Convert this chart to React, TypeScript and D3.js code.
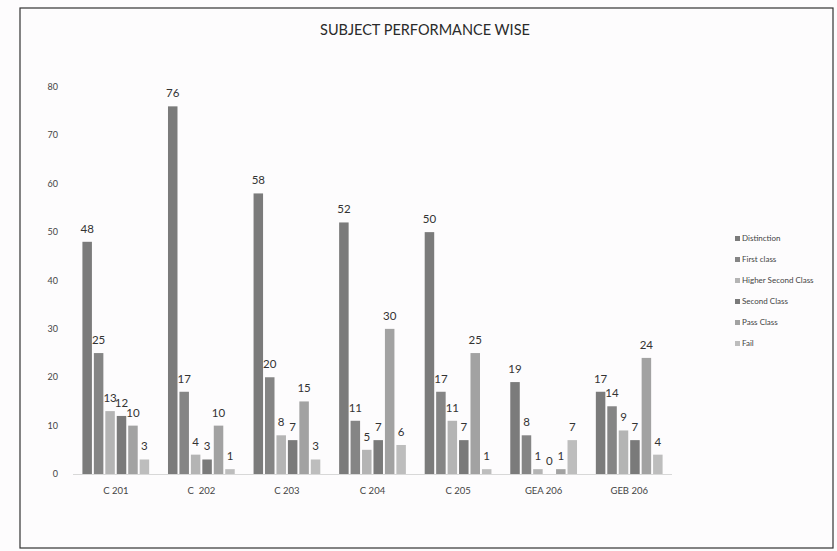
import { useRef, useEffect } from 'react';
import * as d3 from 'd3';

const SUBJECTS = ['C 201', 'C  202', 'C 203', 'C 204', 'C 205', 'GEA 206', 'GEB 206'];
const SERIES = ['Distinction', 'First class', 'Higher Second Class', 'Second Class', 'Pass Class', 'Fail'];
const DISTINCTION = [48, 76, 58, 52, 50, 19, 17];
const FIRST_CLASS = [25, 17, 20, 11, 17, 8, 14];
const HIGHER_SECOND = [13, 4, 8, 5, 11, 1, 9];
const SECOND_CLASS = [12, 3, 7, 7, 7, 0, 7];
const PASS_CLASS = [10, 10, 15, 30, 25, 1, 24];
const FAIL = [3, 1, 3, 6, 1, 7, 4];
const Y_TICKS = [0, 10, 20, 30, 40, 50, 60, 70, 80];

const COLORS = ['#7b7b7b', '#858585', '#b4b4b4', '#7a7a7a', '#a2a2a2', '#bdbdbd'];

export default function App() {
  const svgRef = useRef<SVGSVGElement>(null);

  useEffect(() => {
    if (!svgRef.current) return;
    const width = 837;
    const height = 551;
    const svg = d3.select(svgRef.current);
    svg.selectAll('*').remove();

    const font = 'Lato, "Open Sans", sans-serif';
    const values = [DISTINCTION, FIRST_CLASS, HIGHER_SECOND, SECOND_CLASS, PASS_CLASS, FAIL];

    svg.append('rect').attr('width', width).attr('height', height).attr('fill', '#fdfcfd');

    // chart border
    svg.append('rect')
      .attr('x', 20).attr('y', 8).attr('width', 813).attr('height', 540)
      .attr('fill', 'none').attr('stroke', '#333').attr('stroke-width', 1.2);

    // title
    svg.append('text')
      .attr('x', 425).attr('y', 35)
      .attr('text-anchor', 'middle')
      .attr('font-family', font).attr('font-size', '14.5px').attr('fill', '#2a2a2a')
      .text('SUBJECT PERFORMANCE WISE');

    const x0 = d3.scaleBand().domain(SUBJECTS).range([73, 672]).paddingInner(0.22).paddingOuter(0.11);
    const x1 = d3.scaleBand().domain(SERIES).range([0, x0.bandwidth()]).paddingInner(0.17);
    const y = d3.scaleLinear().domain([0, 80]).range([474, 87]);

    // y tick labels
    svg.append('g')
      .selectAll('text')
      .data(Y_TICKS)
      .join('text')
      .attr('x', 58).attr('y', d => y(d) + 3)
      .attr('text-anchor', 'end')
      .attr('font-family', font).attr('font-size', '9px').attr('fill', '#444')
      .text(d => d);

    // baseline
    svg.append('line')
      .attr('x1', 73).attr('x2', 672).attr('y1', y(0) + 0.5).attr('y2', y(0) + 0.5)
      .attr('stroke', '#d8d8d8');

    // bars
    SUBJECTS.forEach((subj, i) => {
      const g = svg.append('g').attr('transform', `translate(${x0(subj)},0)`);
      SERIES.forEach((s, j) => {
        const v = values[j][i];
        g.append('rect')
          .attr('x', x1(s)!).attr('y', y(v))
          .attr('width', x1.bandwidth()).attr('height', y(0) - y(v))
          .attr('fill', COLORS[j]);
        g.append('text')
          .attr('x', x1(s)! + x1.bandwidth() / 2).attr('y', y(v) - 9)
          .attr('text-anchor', 'middle')
          .attr('font-family', font).attr('font-size', '11.5px').attr('fill', '#333')
          .text(v);
      });
      svg.append('text')
        .attr('x', x0(subj)! + x0.bandwidth() / 2).attr('y', y(0) + 20)
        .attr('text-anchor', 'middle')
        .attr('font-family', font).attr('font-size', '9.5px').attr('fill', '#444')
        .attr('xml:space', 'preserve')
        .style('white-space', 'pre')
        .text(subj);
    });

    // legend
    const legend = svg.append('g');
    SERIES.forEach((s, j) => {
      const ly = 239 + j * 21;
      legend.append('rect')
        .attr('x', 735).attr('y', ly - 3).attr('width', 5).attr('height', 5)
        .attr('fill', COLORS[j]);
      legend.append('text')
        .attr('x', 742).attr('y', ly + 2)
        .attr('font-family', font).attr('font-size', '8px').attr('fill', '#444')
        .text(s);
    });
  }, []);

  return <svg ref={svgRef} width={837} height={551} style={{ display: 'block', position: 'absolute', left: 0, top: 0 }} />;
}
